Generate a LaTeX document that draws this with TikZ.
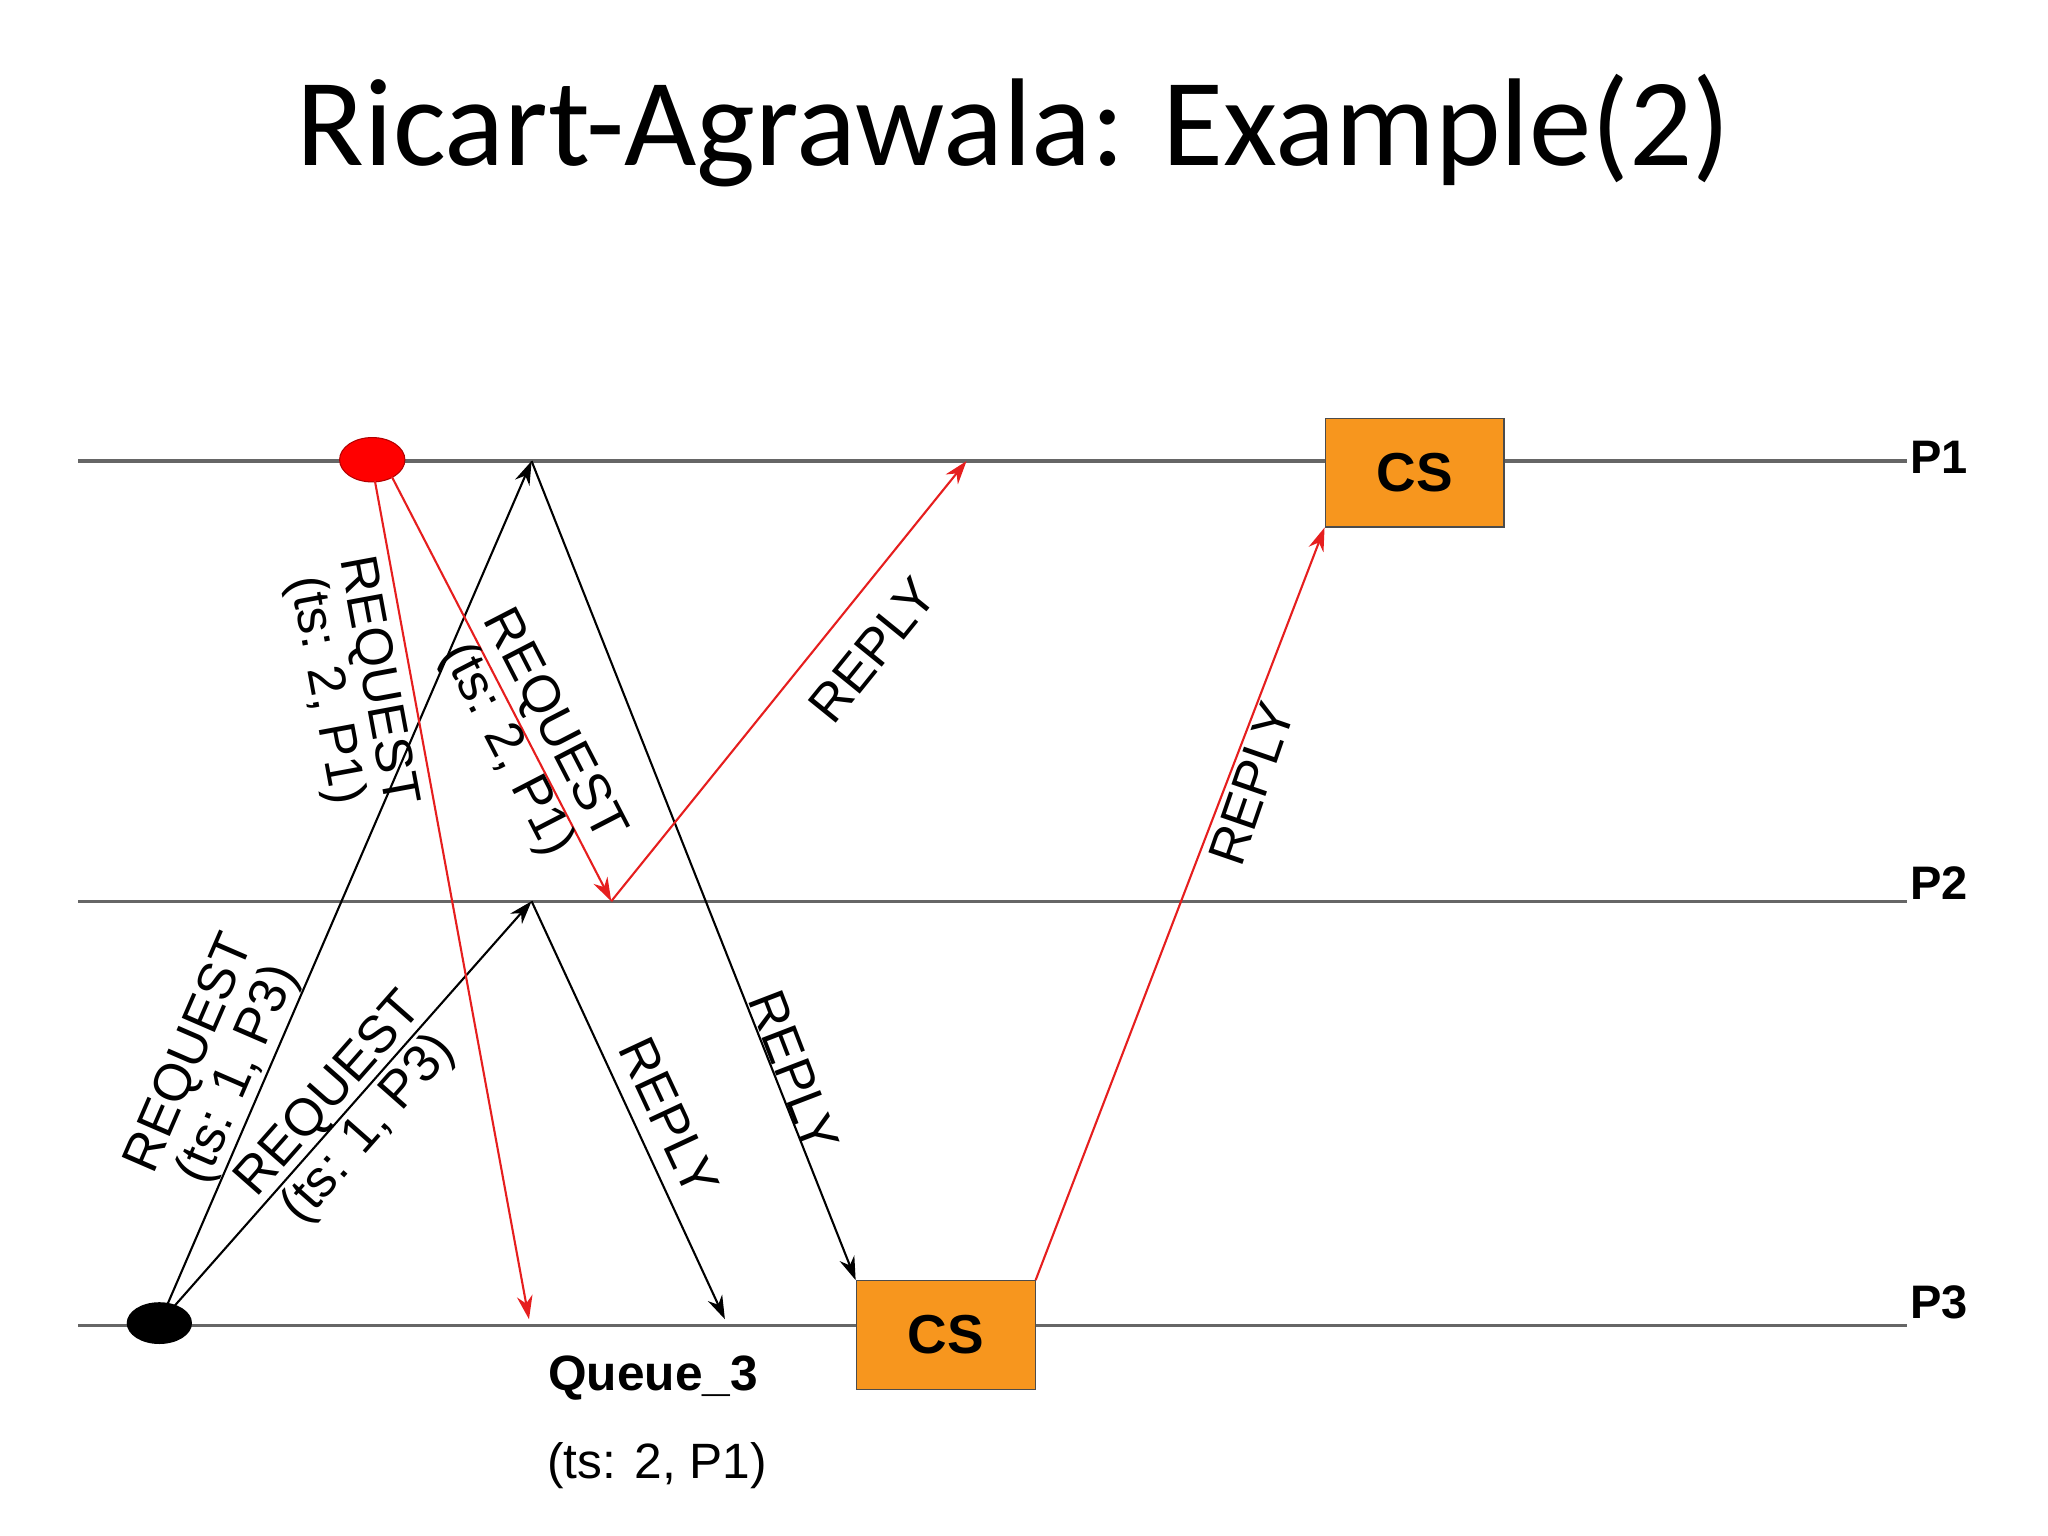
\documentclass[tikz,border=0pt]{standalone}
\usepackage{fontspec}
\setmainfont{Liberation Sans}
\newfontfamily\titlefont{Carlito}
\usetikzlibrary{arrows.meta,shapes.geometric}
\definecolor{csorange}{RGB}{247,150,30}
\definecolor{msgred}{RGB}{230,30,30}
\begin{document}
\begin{tikzpicture}[x=0.5pt,y=-0.5pt,
  proc/.style={draw=gray!80!black,line width=1.2pt},
  blk/.style={draw=black,line width=0.8pt,-{Stealth[length=9pt,width=6pt]}},
  rd/.style={draw=msgred,line width=0.8pt,-{Stealth[length=9pt,width=6pt]}},
  lbl/.style={font=\fontsize{20}{20}\selectfont,align=center,inner sep=0pt},
  plabel/.style={font=\bfseries\fontsize{18}{22}\selectfont,anchor=west,inner sep=0pt},
  csbox/.style={draw=gray!60!black,fill=csorange,minimum width=68.5pt,minimum height=41.5pt,font=\bfseries\fontsize{21}{24}\selectfont,inner sep=0pt}]
\useasboundingbox[fill=white] (0,0) rectangle (1568,1176);
\node[font=\titlefont\fontsize{47.8}{56}\selectfont] (title) at (776,100) {Ricart-Agrawala: Example(2)};
% process lines
\coordinate (l1) at (60,353); \coordinate (r1) at (1460,353);
\coordinate (l2) at (60,690); \coordinate (r2) at (1460,690);
\coordinate (l3) at (60,1015); \coordinate (r3) at (1460,1015);
\draw[proc] (l1) -- (r1); \draw[proc] (l2) -- (r2); \draw[proc] (l3) -- (r3);
\node[plabel] (p1) at (1462,350) {P1};
\node[plabel] (p2) at (1462,676) {P2};
\node[plabel] (p3) at (1462,997) {P3};
% events
\node[ellipse,fill=red,draw=red!70!black,minimum width=25pt,minimum height=17pt,inner sep=0pt] (e1) at (285,352) {};
\node[ellipse,fill=black,minimum width=25pt,minimum height=16pt,inner sep=0pt] (e3) at (122,1013) {};
\node[csbox] (cs1) at (1083,362) {CS};
\node[csbox] (cs3) at (724,1022) {CS};
% message points
\coordinate (a1) at (407,353);
\coordinate (a2) at (407,690);
\coordinate (b2) at (468,690);
\coordinate (q3) at (405,1010);
\coordinate (c3) at (555,1010);
\coordinate (c1) at (740,353);
\coordinate (r1s) at (300,365);
\coordinate (r1a) at (287,368);
% messages
\draw[blk] (e3.center) -- (a1);
\draw[blk] (e3.center) -- (a2);
\draw[rd] (r1a) -- (q3);
\draw[rd] (r1s) -- (b2);
\draw[blk] (a1) -- (cs3.north west);
\draw[blk] (a2) -- (c3);
\draw[rd] (b2) -- (c1);
\draw[rd] (cs3.north east) -- (cs1.south west);
% labels
\node[lbl,rotate=66.6] (t1) at (165,815) {REQUEST\\(ts: 1, P3)};
\node[lbl,rotate=48.6] (t2) at (268,852) {REQUEST\\(ts: 1, P3)};
\node[lbl,rotate=-79.5] (t3) at (268,525) {REQUEST\\(ts: 2, P1)};
\node[lbl,rotate=-62.7] (t4) at (405,565) {REQUEST\\(ts: 2, P1)};
\node[lbl,rotate=51] (t5) at (668,498) {REPLY};
\node[lbl,rotate=-69] (t6) at (608,820) {REPLY};
\node[lbl,rotate=-65] (t7) at (512,855) {REPLY};
\node[lbl,rotate=71] (t8) at (958,600) {REPLY};
\node[font=\bfseries\fontsize{19}{22}\selectfont] (qn) at (500,1055) {Queue\_3};
\node[font=\fontsize{19}{22}\selectfont] (qt) at (503,1122) {(ts: 2, P1)};
\end{tikzpicture}
\end{document}
